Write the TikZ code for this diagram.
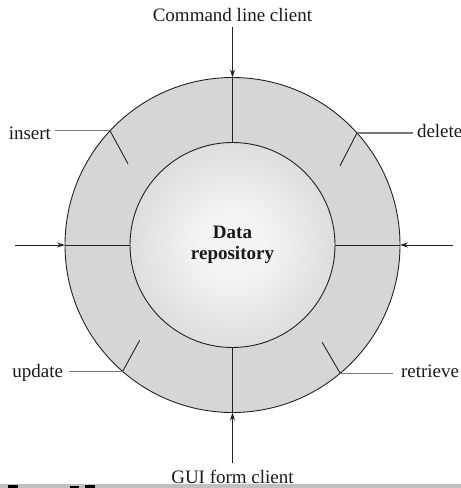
\documentclass[tikz,border=0pt]{standalone}
\usepackage{fontspec}
\setmainfont{Liberation Serif}
\setsansfont{Liberation Sans}
\usetikzlibrary{arrows.meta}
\definecolor{ringin}{RGB}{214,214,214}
\definecolor{ringout}{RGB}{196,196,196}
\definecolor{corein}{RGB}{244,244,244}
\definecolor{coreout}{RGB}{188,188,188}
\definecolor{linec}{RGB}{35,35,35}
\definecolor{lblline}{RGB}{120,120,120}
\definecolor{txtc}{RGB}{25,25,25}
\definecolor{barc}{RGB}{192,192,192}
\pgfdeclareradialshading{ringshade}{\pgfpoint{0bp}{0bp}}{color(0bp)=(ringin); color(30bp)=(ringin); color(50bp)=(ringout); color(72bp)=(ringout)}
\pgfdeclareradialshading{coreshade}{\pgfpoint{0bp}{0bp}}{color(0bp)=(corein); color(8bp)=(corein); color(50bp)=(coreout); color(72bp)=(coreout)}
\begin{document}
\begin{tikzpicture}[x=1pt,y=-1pt,
  lbl/.style={font=\fontsize{19}{22}\selectfont, text=txtc, inner sep=0pt, outer sep=0pt},
  mainline/.style={draw=linec, line width=0.9pt},
  arr/.style={mainline, -{Stealth[length=8pt,width=5pt]}},
  lblln/.style={draw=lblline, line width=1.3pt},
  tick/.style={mainline}]
\useasboundingbox (0,0) rectangle (461,488);
% circles
\node[circle, minimum size=335pt, inner sep=0pt, outer sep=0pt, draw=linec, line width=0.9pt, shading=ringshade] (ring) at (232.5,245) {};
\node[circle, minimum size=205pt, inner sep=0pt, outer sep=0pt, draw=linec, line width=0.9pt, shading=coreshade,
      font=\fontsize{19}{22}\selectfont\bfseries, text=txtc, align=center] (repo) at (232.5,245) {Data\\[-1pt]repository};
% client labels
\node[lbl, anchor=base] (cmd) at (232.5,21) {Command line client};
\node[lbl, anchor=base] (gui) at (232.5,483) {GUI form client};
\coordinate (lin) at (15,245);
\coordinate (rin) at (453,245);
% vertical connectors
\draw[arr] ([yshift=-6pt]cmd.base) -- (ring.north);
\draw[mainline] (ring.north) -- (repo.north);
\draw[arr] ([yshift=20pt]gui.base) -- (ring.south);
\draw[mainline] (ring.south) -- (repo.south);
% horizontal connectors
\draw[arr] (lin) -- (ring.west);
\draw[mainline] (ring.west) -- (repo.west);
\draw[arr] (rin) -- (ring.east);
\draw[mainline] (ring.east) -- (repo.east);
% operation labels
\node[lbl, anchor=base east] (ins) at (51,139) {insert};
\node[lbl, anchor=base west] (del) at (417,137.5) {delete};
\node[lbl, anchor=base east] (upd) at (63,377) {update};
\node[lbl, anchor=base west] (ret) at (401,377) {retrieve};
\coordinate (pins) at (ring.137.4);
\coordinate (pdel) at (ring.42.6);
\coordinate (pupd) at (ring.229.6);
\coordinate (pret) at (ring.310.4);
\draw[lblln] ([xshift=4pt]ins.east |- pins) -- (pins);
\draw[lblln] ([xshift=-4pt]del.west |- pdel) -- (pdel);
\draw[lblln] ([xshift=6pt]upd.east |- pupd) -- (pupd);
\draw[lblln] ([xshift=-8pt]ret.west |- pret) -- (pret);
% ticks
\draw[tick] (pins) -- ++(18,33) coordinate (tins);
\draw[tick] (pdel) -- ++(-17,33) coordinate (tdel);
\draw[tick] (pupd) -- ++(17,-31) coordinate (tupd);
\draw[tick] (pret) -- ++(-18,-31) coordinate (tret);
% caption bar fragment
\fill[barc] (0,483.5) rectangle (461,488);
\fill[black] (8,484.5) rectangle (18,488);
\fill[black] (70,485.5) rectangle (79,488);
\fill[black] (85,484.5) rectangle (95,488);
\end{tikzpicture}
\end{document}
